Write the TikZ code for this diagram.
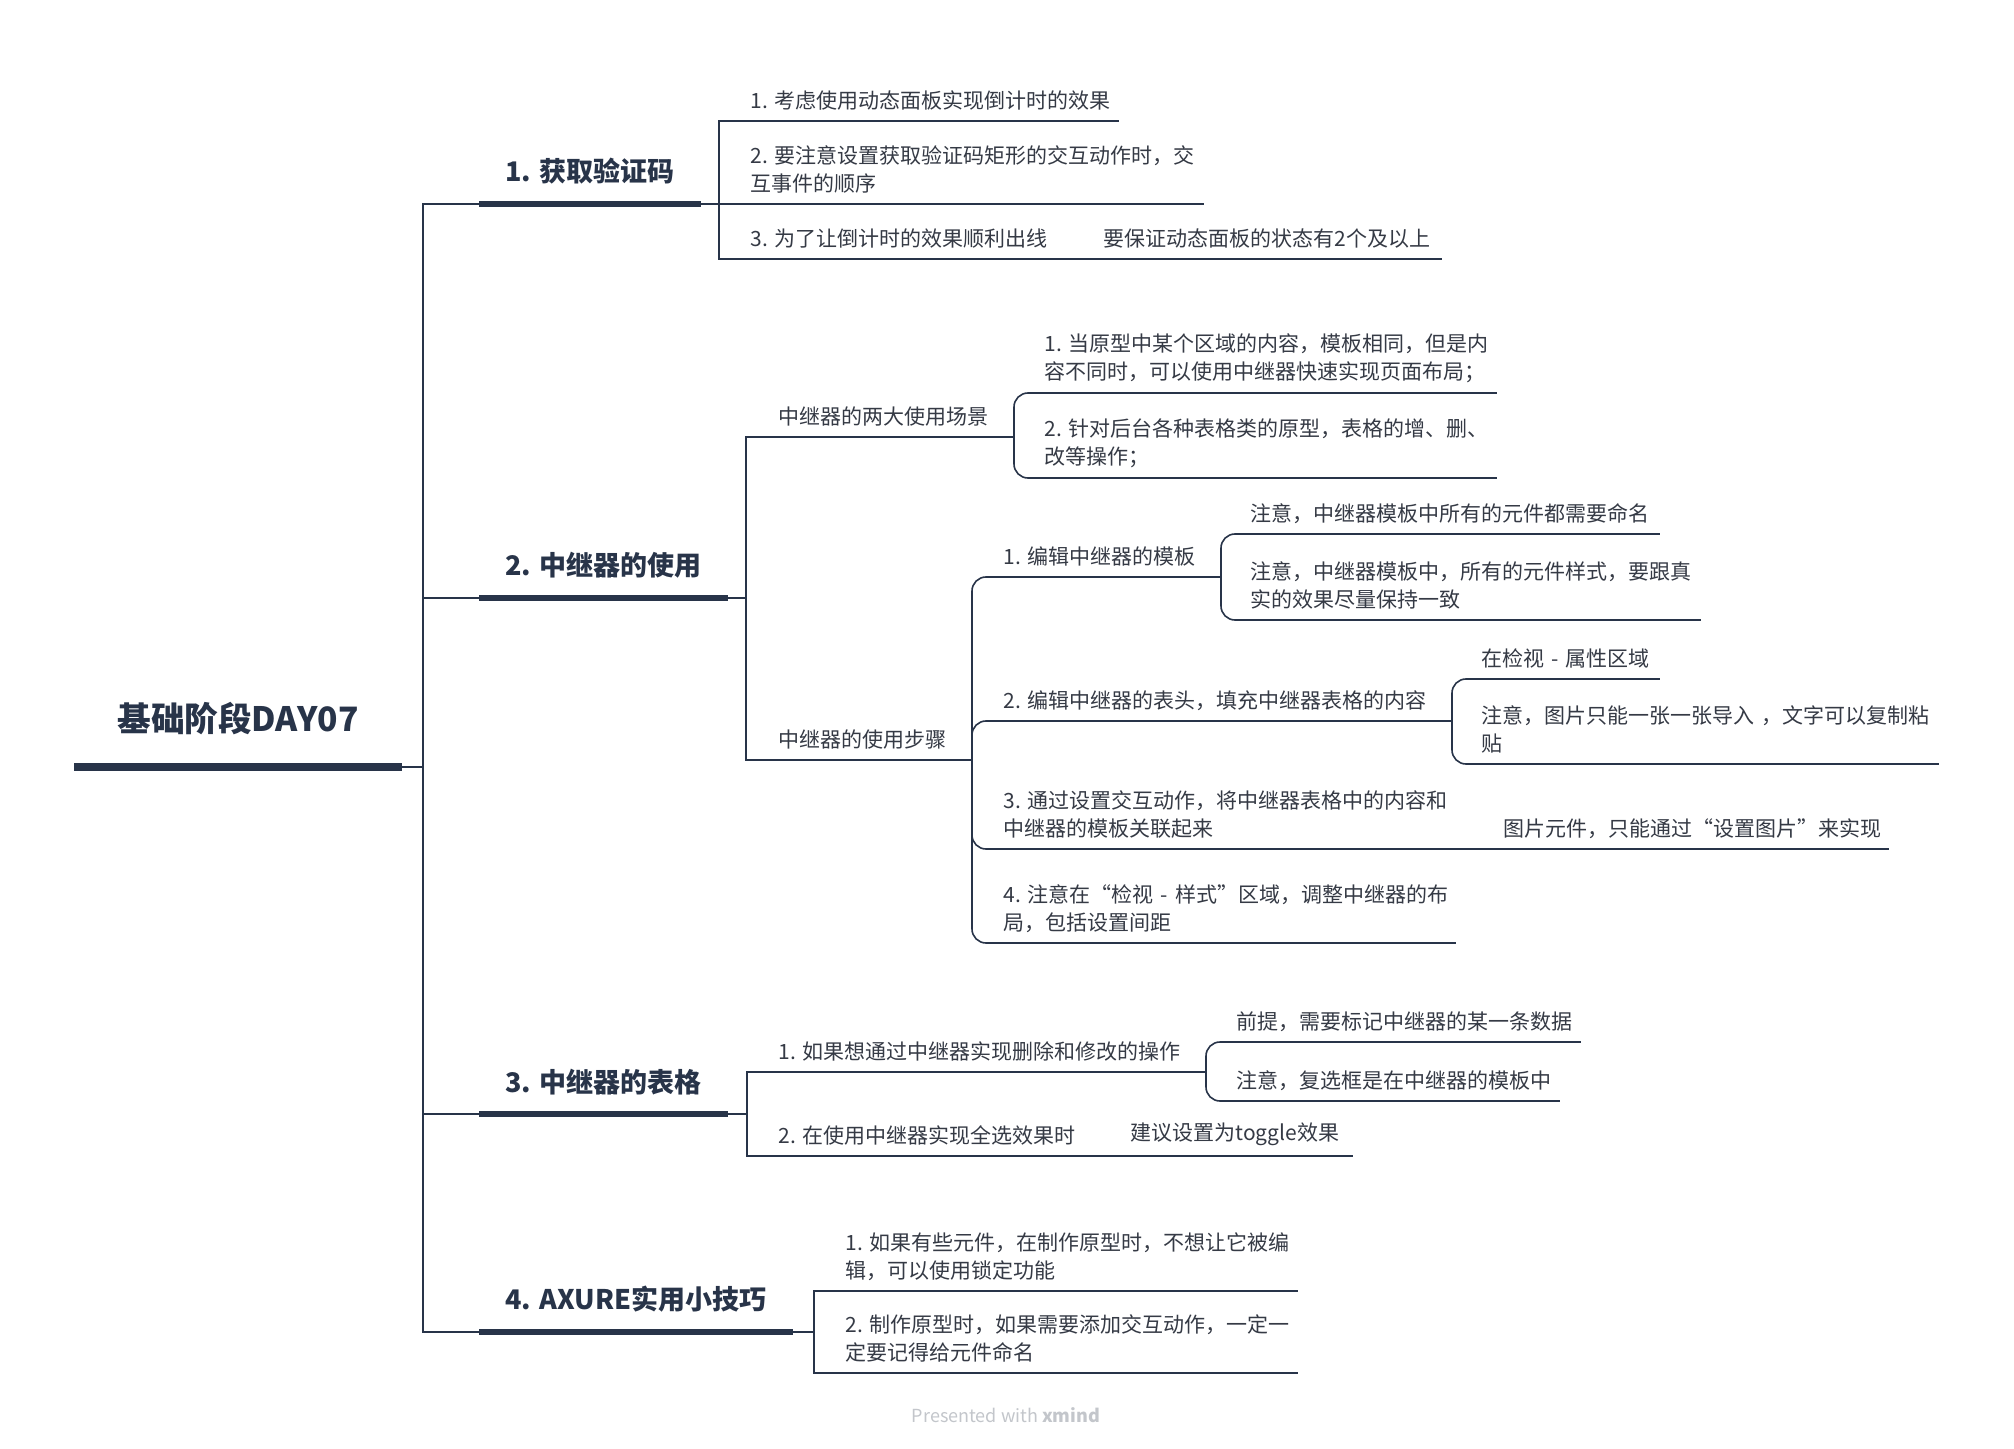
\documentclass[tikz,border=0pt]{standalone}
\usepackage{fontspec}
\setmainfont{Noto Sans CJK SC}
\usetikzlibrary{calc}
\definecolor{navy}{HTML}{283449}
\definecolor{ink}{HTML}{353A45}
\definecolor{credit}{HTML}{C3C6CB}

\begin{document}
\begin{tikzpicture}[x=0.5pt,y=-0.5pt,
  link/.style={draw=navy,line width=0.8pt},
  curved/.style={link,rounded corners=7pt},
  bar/.style={draw=navy,line width=2.8pt},
  leaf/.style={anchor=south west,inner xsep=0pt,inner ysep=5pt,align=left,text width=#1,text=ink,font=\fontsize{10.5}{14}\selectfont},
  topic/.style={anchor=south west,inner xsep=13pt,inner ysep=9.5pt,text=navy,font=\fontsize{13.5}{16}\selectfont\bfseries}]
\fill[white] (0,0) rectangle (2014,1449);
\useasboundingbox (0,0) rectangle (2014,1449);

% root and trunk
\node[topic,inner xsep=21.5pt,inner ysep=16pt,font=\fontsize{16.8}{20}\selectfont\bfseries] (root) at (74,767) {基础阶段DAY07};
\draw[bar,line width=3.6pt] (root.south west) -- (root.south east);
\coordinate (tr) at (423,767);
\draw[link] (root.south east) -- (tr);

\node[topic] (b1) at (479,204) {1. 获取验证码};
\node[topic] (b2) at (479,598) {2. 中继器的使用};
\node[topic] (b3) at (479,1114) {3. 中继器的表格};
\node[topic] (b4) at (479,1332) {4. AXURE实用小技巧};
\foreach \b in {b1,b2,b3,b4} {
  \draw[link] (tr) |- (\b.south west);
  \draw[bar] (\b.south west) -- (\b.south east);
}

% 1. 获取验证码
\coordinate (j1) at (719,204);
\draw[link] (b1.south east) -- (j1);
\node[leaf=184pt] (c1) at (750,121) {1.~考虑使用动态面板实现倒计时的效果};
\node[leaf=226.5pt] (c2) at (750,204) {2.~要注意设置获取验证码矩形的交互动作时，交\\互事件的顺序};
\node[leaf=153pt] (c3) at (750,259) {3.~为了让倒计时的效果顺利出线};
\node[leaf=169pt] (c3a) at (1103,259) {要保证动态面板的状态有2个及以上};
\foreach \c in {c1,c2,c3}
  \draw[link] (j1) |- (\c.south west) -- (\c.south east);
\draw[link] (c3.south east) -- (c3a.south west) -- (c3a.south east);

% 2. 中继器的使用
\coordinate (j2) at (746,598);
\draw[link] (b2.south east) -- (j2);
\node[leaf=109pt] (d1) at (778,437) {中继器的两大使用场景};
\node[leaf=88pt] (d2) at (778,760) {中继器的使用步骤};
\foreach \c in {d1,d2}
  \draw[link] (j2) |- (\c.south west) -- (\c.south east);

\coordinate (j3) at (1014,437);
\draw[link] (d1.south east) -- (j3);
\node[leaf=226pt] (s1) at (1044,393) {1.~当原型中某个区域的内容，模板相同，但是内\\容不同时，可以使用中继器快速实现页面布局；};
\node[leaf=226pt] (s2) at (1044,478) {2.~针对后台各种表格类的原型，表格的增、删、\\改等操作；};
\foreach \c in {s1,s2}
  \draw[curved] (j3) |- (\c.south west) -- (\c.south east);

\coordinate (j4) at (972,760);
\draw[link] (d2.south east) -- (j4);
\node[leaf=97.5pt] (t1) at (1003,577) {1.~编辑中继器的模板};
\node[leaf=214.5pt] (t2) at (1003,721) {2.~编辑中继器的表头，填充中继器表格的内容};
\node[leaf=226pt] (t3) at (1003,849) {3.~通过设置交互动作，将中继器表格中的内容和\\中继器的模板关联起来};
\node[leaf=226pt] (t4) at (1003,943) {4.~注意在“检视~-~样式”区域，调整中继器的布\\局，包括设置间距};
\node[leaf=192.5pt] (t3a) at (1503,849) {图片元件，只能通过“设置图片”来实现};
\foreach \c in {t1,t2,t3,t4}
  \draw[curved] (j4) |- (\c.south west) -- (\c.south east);
\draw[link] (t3.south east) -- (t3a.south west) -- (t3a.south east);

\coordinate (j5) at (1221,577);
\draw[link] (t1.south east) -- (j5);
\node[leaf=204.5pt] (n1) at (1250,534) {注意，中继器模板中所有的元件都需要命名};
\node[leaf=225pt] (n2) at (1250,620) {注意，中继器模板中，所有的元件样式，要跟真\\实的效果尽量保持一致};
\foreach \c in {n1,n2}
  \draw[curved] (j5) |- (\c.south west) -- (\c.south east);

\coordinate (j6) at (1452,721);
\draw[link] (t2.south east) -- (j6);
\node[leaf=89pt] (p1) at (1481,679) {在检视~-~属性区域};
\node[leaf=228.5pt] (p2) at (1481,764) {注意，图片只能一张一张导入~，文字可以复制粘\\贴};
\foreach \c in {p1,p2}
  \draw[curved] (j6) |- (\c.south west) -- (\c.south east);

% 3. 中继器的表格
\coordinate (j7) at (747,1114);
\draw[link] (b3.south east) -- (j7);
\node[leaf=204pt] (r1) at (778,1072) {1.~如果想通过中继器实现删除和修改的操作};
\node[leaf=152.5pt] (r2) at (778,1156) {2.~在使用中继器实现全选效果时};
\node[leaf=111pt] (r2a) at (1130,1156) {建议设置为toggle效果};
\foreach \c in {r1,r2}
  \draw[link] (j7) |- (\c.south west) -- (\c.south east);
\draw[link] (r2.south east) -- (r2a.south west) -- (r2a.south east);

\coordinate (j8) at (1206,1072);
\draw[link] (r1.south east) -- (j8);
\node[leaf=172pt] (q1) at (1236,1042) {前提，需要标记中继器的某一条数据};
\node[leaf=161.5pt] (q2) at (1236,1101) {注意，复选框是在中继器的模板中};
\foreach \c in {q1,q2}
  \draw[curved] (j8) |- (\c.south west) -- (\c.south east);

% 4. AXURE实用小技巧
\coordinate (j9) at (814,1332);
\draw[link] (b4.south east) -- (j9);
\node[leaf=226pt] (u1) at (845,1291) {1.~如果有些元件，在制作原型时，不想让它被编\\辑，可以使用锁定功能};
\node[leaf=226pt] (u2) at (845,1373) {2.~制作原型时，如果需要添加交互动作，一定一\\定要记得给元件命名};
\foreach \c in {u1,u2}
  \draw[link] (j9) |- (\c.south west) -- (\c.south east);

\node[text=credit,font=\fontsize{9}{10}\selectfont] (mark) at (1006,1415) {Presented with \textbf{xmind}};
\end{tikzpicture}
\end{document}
